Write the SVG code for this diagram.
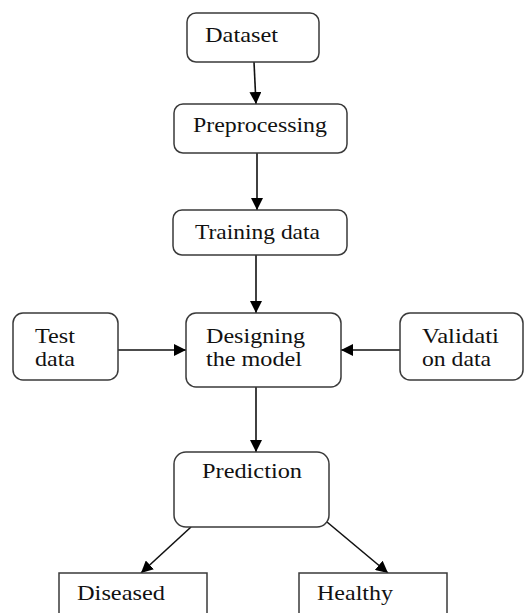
<svg xmlns="http://www.w3.org/2000/svg" width="524" height="613" viewBox="0 0 524 613">
<style>
.box{fill:#fff;stroke:#3a3a3a;stroke-width:1.5}
.t{font-family:"Liberation Serif","Times New Roman",serif;font-size:21px;fill:#111}
.c{stroke:#111;stroke-width:1.6;fill:none;marker-end:url(#ah)}
</style>
<defs>
<marker id="ah" viewBox="0 0 12 12" refX="12" refY="6" markerWidth="12" markerHeight="12" markerUnits="userSpaceOnUse" orient="auto">
<path d="M0,0 L12,6 L0,12 Z" fill="#000"/>
</marker>
</defs>
<rect width="524" height="613" fill="#fff"/>
<g id="connectors">
<line class="c" x1="254" y1="62" x2="256" y2="104"/>
<line class="c" x1="257" y1="153" x2="257" y2="210"/>
<line class="c" x1="256" y1="255" x2="256" y2="313"/>
<line class="c" x1="118" y1="350" x2="186" y2="350"/>
<line class="c" x1="400" y1="350" x2="341" y2="350"/>
<line class="c" x1="256" y1="387" x2="256" y2="452"/>
<line class="c" x1="191" y1="527" x2="141" y2="573"/>
<line class="c" x1="327" y1="522" x2="388" y2="573"/>
</g>
<g id="dataset">
<rect class="box" x="187" y="13" width="132" height="49" rx="9"/>
<text class="t" x="205" y="42" textLength="73" lengthAdjust="spacingAndGlyphs">Dataset</text>
</g>
<g id="preprocessing">
<rect class="box" x="174" y="104" width="173" height="49" rx="9"/>
<text class="t" x="193" y="132" textLength="134" lengthAdjust="spacingAndGlyphs">Preprocessing</text>
</g>
<g id="training">
<rect class="box" x="173" y="210" width="174" height="45" rx="9"/>
<text class="t" x="195" y="239" textLength="125" lengthAdjust="spacingAndGlyphs">Training data</text>
</g>
<g id="test">
<rect class="box" x="13" y="313" width="105" height="67" rx="10"/>
<text class="t" x="35" y="343" textLength="40" lengthAdjust="spacingAndGlyphs">Test</text>
<text class="t" x="35" y="366" textLength="40" lengthAdjust="spacingAndGlyphs">data</text>
</g>
<g id="designing">
<rect class="box" x="186" y="313" width="155" height="74" rx="10"/>
<text class="t" x="206" y="343" textLength="99" lengthAdjust="spacingAndGlyphs">Designing</text>
<text class="t" x="206" y="366" textLength="96" lengthAdjust="spacingAndGlyphs">the model</text>
</g>
<g id="validation">
<rect class="box" x="400" y="313" width="123" height="67" rx="10"/>
<text class="t" x="422" y="343" textLength="77" lengthAdjust="spacingAndGlyphs">Validati</text>
<text class="t" x="422" y="366" textLength="69" lengthAdjust="spacingAndGlyphs">on data</text>
</g>
<g id="prediction">
<rect class="box" x="174" y="452" width="155" height="75" rx="12"/>
<text class="t" x="202" y="478" textLength="100" lengthAdjust="spacingAndGlyphs">Prediction</text>
</g>
<g id="diseased">
<rect class="box" x="59" y="573" width="148" height="60"/>
<text class="t" x="77" y="600" textLength="88" lengthAdjust="spacingAndGlyphs">Diseased</text>
</g>
<g id="healthy">
<rect class="box" x="299" y="573" width="148" height="60"/>
<text class="t" x="317" y="600" textLength="76" lengthAdjust="spacingAndGlyphs">Healthy</text>
</g>
</svg>
